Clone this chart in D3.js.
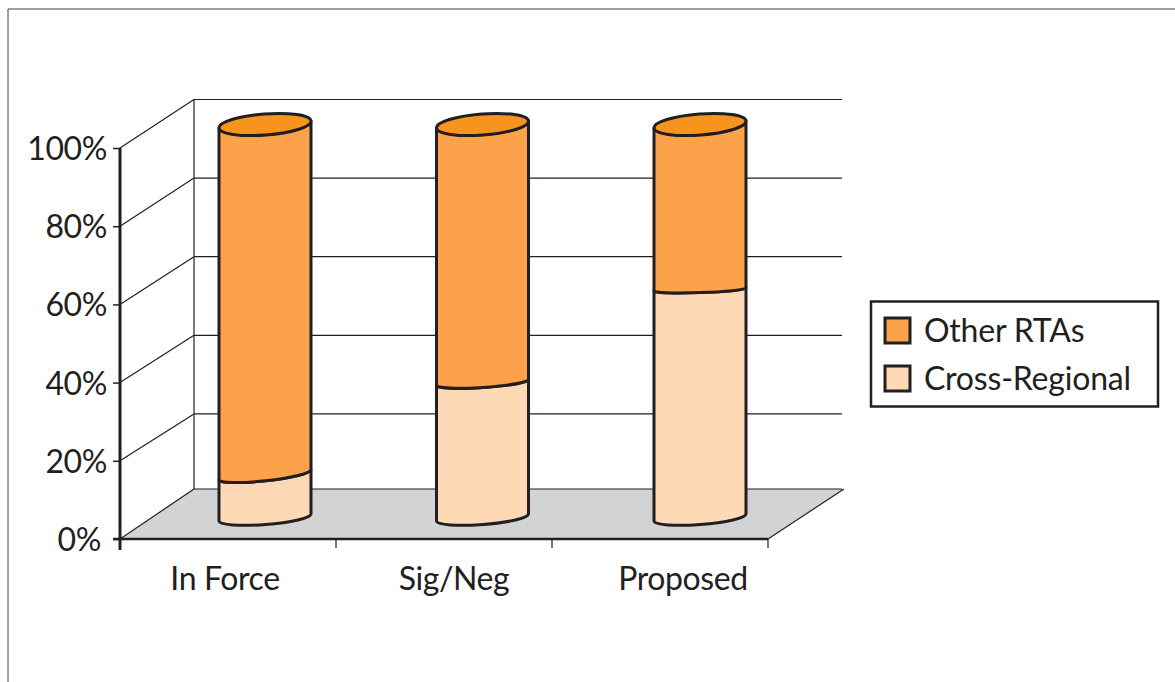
<!DOCTYPE html>
<html>
<head>
<meta charset="utf-8">
<script src="https://cdn.jsdelivr.net/npm/d3@7"></script>
<style>
  html, body { margin: 0; padding: 0; background: #fff; }
  svg { display: block; }
  text { font-family: "Lato", sans-serif; fill: #231F20; }
</style>
</head>
<body>
<svg id="chart" width="1175" height="682"></svg>
<script>
const categories = ["In Force", "Sig/Neg", "Proposed"]
const crossRegional = [10.5, 34.5, 58.5]
const otherRtas = [89.5, 65.5, 41.5]
const yTicks = [0, 20, 40, 60, 80, 100]
const legendLabels = ["Other RTAs", "Cross-Regional"]

const INK = "#231F20"
const TOP_FILL = "#F7941E"
const OTHER_FILL = "#FBA24B"
const CROSS_FILL = "#FDD9B5"
const FLOOR_FILL = "#D1D3D4"

const svg = d3.select("#chart")

// Outer frame, open on the right and bottom
svg.append("path")
  .attr("d", "M8,682V9H1175")
  .attr("fill", "none")
  .attr("stroke", "#414042")
  .attr("stroke-width", 1)

// Scales: front plane, back wall, cylinder surface
const yFront = d3.scaleLinear().domain([0, 100]).range([539, 148])
const yBack = d3.scaleLinear().domain([0, 100]).range([492.5, 99.5])
const yCyl = d3.scaleLinear().domain([0, 100]).range([521, 128])
const xFront = d3.scaleBand().domain(categories).range([120, 768])
const xLabel = d3.scalePoint().domain(categories).range([225, 683])
const xCyl = d3.scalePoint().domain(categories).range([265, 700])
const depth = 74
const floorBack = 489
const backY = d => d === 0 ? floorBack : yBack(d)

// Floor
const x0 = xFront.range()[0]
const x1 = xFront.range()[1]
svg.append("path")
  .attr("d", `M${x0},${yFront(0)}L${x0 + depth},${floorBack}H${x1 + depth + 2}L${x1},${yFront(0)}Z`)
  .attr("fill", FLOOR_FILL)
  .attr("stroke", "none")

// Back wall and side wall grid
const grid = svg.append("g").attr("fill", "none").attr("stroke", INK).attr("stroke-width", 1.2)
grid.selectAll(".back")
  .data(yTicks)
  .enter()
  .append("line")
  .attr("x1", x0 + depth)
  .attr("x2", x1 + depth)
  .attr("y1", backY)
  .attr("y2", backY)
grid.selectAll(".side")
  .data(yTicks)
  .enter()
  .append("line")
  .attr("x1", x0)
  .attr("x2", x0 + depth)
  .attr("y1", d => yFront(d))
  .attr("y2", backY)
grid.append("line")
  .attr("x1", x0 + depth)
  .attr("x2", x0 + depth)
  .attr("y1", backY(100))
  .attr("y2", backY(0))
grid.append("line")
  .attr("x1", x1)
  .attr("x2", x1 + depth + 2)
  .attr("y1", yFront(0))
  .attr("y2", floorBack)

// Cylinders
const halfWidth = 46
const bottomRise = 7
const topRise = 7
const boundaryRise = [10, 6, 3]
const boundarySag = [6, 5, 3]

const stack = d3.stack().keys(["cross", "other"])
const rows = categories.map((c, i) => ({ category: c, cross: crossRegional[i], other: otherRtas[i] }))
const layers = stack(rows)

const tilt = rise => -Math.atan2(rise, halfWidth * 2) * 180 / Math.PI

function segmentPath(cx, v0, rise0, sag0, v1, rise1, sag1) {
  const l = cx - halfWidth
  const r = cx + halfWidth
  return `M${l},${yCyl(v0)}` +
    `A${halfWidth},${sag0} ${tilt(rise0)} 0 0 ${r},${yCyl(v0) - rise0}` +
    `L${r},${yCyl(v1) - rise1}` +
    `A${halfWidth},${sag1} ${tilt(rise1)} 0 1 ${l},${yCyl(v1)}Z`
}

const cylinders = svg.append("g")
  .attr("stroke", INK)
  .attr("stroke-width", 3)
  .attr("stroke-linejoin", "round")

categories.forEach((c, i) => {
  const cx = xCyl(c)
  const split = layers[0][i][1]
  cylinders.append("path")
    .attr("d", segmentPath(cx, 0, bottomRise, 7, split, boundaryRise[i], boundarySag[i]))
    .attr("fill", CROSS_FILL)
  cylinders.append("path")
    .attr("d", segmentPath(cx, split, boundaryRise[i], boundarySag[i], 100, topRise, 10))
    .attr("fill", OTHER_FILL)
  // top cap
  const yL = yCyl(100)
  const yR = yL - topRise
  const rot = tilt(topRise)
  cylinders.append("path")
    .attr("d", `M${cx - halfWidth},${yL}A${halfWidth},10.5 ${rot} 0 0 ${cx + halfWidth},${yR}A${halfWidth},10.5 ${rot} 0 0 ${cx - halfWidth},${yL}Z`)
    .attr("fill", TOP_FILL)
})

// Value axis
const yAxis = d3.axisLeft(yFront)
  .tickValues(yTicks)
  .tickFormat(d => d + "%")
  .tickSize(7)
  .tickPadding(6)
const yAxisG = svg.append("g")
  .attr("transform", `translate(${x0},0)`)
  .call(yAxis)
yAxisG.select(".domain").remove()
yAxisG.selectAll(".tick line").attr("stroke", INK).attr("stroke-width", 1.5)
yAxisG.selectAll("text")
  .style("font-size", "32px")
  .style("font-family", "Lato, sans-serif")
  .style("letter-spacing", "-0.4px")
  .attr("fill", INK)
  .attr("dy", "0.36em")
  .attr("dx", d => d === 0 ? -6 : 0)
svg.append("line")
  .attr("x1", x0)
  .attr("x2", x0)
  .attr("y1", yFront(100))
  .attr("y2", yFront(0) + 11)
  .attr("stroke", INK)
  .attr("stroke-width", 3)

// Baseline and category ticks
svg.append("line")
  .attr("x1", x0 - 7)
  .attr("x2", x1)
  .attr("y1", yFront(0))
  .attr("y2", yFront(0))
  .attr("stroke", INK)
  .attr("stroke-width", 2.5)
const bandEdges = categories.map(c => xFront(c) + xFront.bandwidth())
svg.selectAll(".x-tick")
  .data(bandEdges)
  .enter()
  .append("line")
  .attr("x1", d => d)
  .attr("x2", d => d)
  .attr("y1", yFront(0))
  .attr("y2", yFront(0) + 9)
  .attr("stroke", INK)
  .attr("stroke-width", 1.2)

// Category labels
svg.selectAll(".x-label")
  .data(categories)
  .enter()
  .append("text")
  .attr("x", d => xLabel(d))
  .attr("y", 590)
  .attr("text-anchor", "middle")
  .style("font-size", "32px")
  .style("letter-spacing", "-0.4px")
  .text(d => d)

// Legend
svg.append("rect")
  .attr("x", 871)
  .attr("y", 301.5)
  .attr("width", 287)
  .attr("height", 105)
  .attr("fill", "#fff")
  .attr("stroke", INK)
  .attr("stroke-width", 2.5)
const legend = svg.selectAll(".legend")
  .data(legendLabels)
  .enter()
  .append("g")
  .attr("transform", (d, i) => `translate(885,${318 + i * 48})`)
legend.append("rect")
  .attr("width", 25)
  .attr("height", 25)
  .attr("fill", (d, i) => i === 0 ? OTHER_FILL : CROSS_FILL)
  .attr("stroke", INK)
  .attr("stroke-width", 3)
legend.append("text")
  .attr("x", 39)
  .attr("y", 24)
  .style("font-size", "32px")
  .style("letter-spacing", "-0.2px")
  .text(d => d)
</script>
</body>
</html>
